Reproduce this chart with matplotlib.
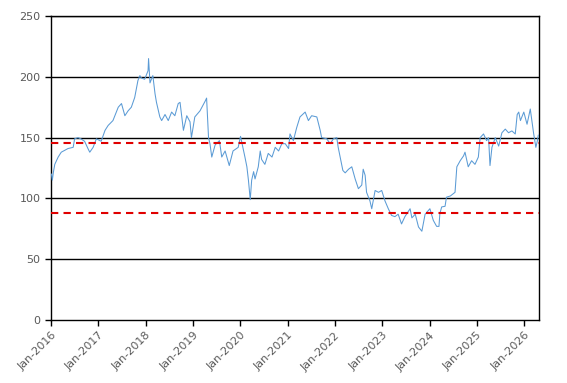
import matplotlib
matplotlib.use("Agg")
import matplotlib.pyplot as plt
import matplotlib.dates as mdates
import pandas as pd

dates = [
    "2016-01-04", "2016-01-11", "2016-01-20", "2016-01-30", "2016-02-25", "2016-03-20",
    "2016-05-11", "2016-06-20", "2016-07-01", "2016-07-27", "2016-08-18", "2016-09-16",
    "2016-10-12", "2016-10-26", "2016-11-21", "2016-12-16", "2017-01-22", "2017-02-21",
    "2017-03-17", "2017-04-23", "2017-06-03", "2017-06-28", "2017-07-24", "2017-08-18",
    "2017-09-12", "2017-10-08", "2017-11-02", "2017-11-17", "2017-11-28", "2017-12-24",
    "2018-01-19", "2018-01-23", "2018-02-03", "2018-02-25", "2018-03-14", "2018-03-25",
    "2018-04-20", "2018-05-04", "2018-05-30", "2018-06-24", "2018-07-20", "2018-08-14",
    "2018-09-09", "2018-09-23", "2018-10-19", "2018-11-14", "2018-12-09", "2018-12-20",
    "2019-01-15", "2019-02-24", "2019-04-05", "2019-04-16", "2019-05-01", "2019-05-12",
    "2019-05-26", "2019-06-21", "2019-07-24", "2019-08-11", "2019-09-06", "2019-10-08",
    "2019-11-06", "2019-12-16", "2020-01-03", "2020-02-06", "2020-02-21", "2020-03-04",
    "2020-03-18", "2020-03-29", "2020-04-13", "2020-04-24", "2020-05-19", "2020-06-03",
    "2020-06-14", "2020-07-09", "2020-08-04", "2020-09-02", "2020-09-27", "2020-10-23",
    "2020-11-17", "2020-12-13", "2021-01-08", "2021-01-19", "2021-02-14", "2021-03-11",
    "2021-04-06", "2021-05-16", "2021-06-10", "2021-07-05", "2021-08-14", "2021-09-09",
    "2021-09-20", "2021-10-30", "2021-11-25", "2021-12-20", "2022-01-15", "2022-01-26",
    "2022-02-10", "2022-03-03", "2022-03-21", "2022-04-16", "2022-05-11", "2022-06-06",
    "2022-07-01", "2022-07-27", "2022-08-07", "2022-08-22", "2022-09-02", "2022-09-28",
    "2022-10-12", "2022-11-07", "2022-12-03", "2022-12-28", "2023-01-22", "2023-02-17",
    "2023-03-14", "2023-04-09", "2023-05-04", "2023-05-30", "2023-06-25", "2023-08-04",
    "2023-08-18", "2023-09-13", "2023-10-08", "2023-11-03", "2023-11-28", "2024-01-04",
    "2024-01-30", "2024-02-25", "2024-03-14", "2024-03-21", "2024-04-04", "2024-04-30",
    "2024-05-11", "2024-06-10", "2024-07-16", "2024-07-30", "2024-08-25", "2024-09-20",
    "2024-10-01", "2024-10-26", "2024-11-21", "2024-12-17", "2025-01-12", "2025-01-26",
    "2025-02-21", "2025-03-17", "2025-04-01", "2025-04-12", "2025-04-27", "2025-05-23",
    "2025-06-18", "2025-07-13", "2025-08-08", "2025-09-02", "2025-09-28", "2025-10-24",
    "2025-11-08", "2025-11-20", "2025-12-03", "2025-12-29", "2026-01-23", "2026-02-17",
    "2026-03-14", "2026-04-01", "2026-04-10", "2026-04-20",
]

values = [
    120, 115, 122, 128, 134, 138,
    141, 142, 149, 150, 149, 147,
    141, 138, 142, 149, 147, 156,
    160, 164, 175, 178, 168, 172,
    175, 183, 197, 201, 199, 198,
    205, 215, 195, 201, 186, 179,
    167, 164, 169, 164, 171, 168,
    178, 179, 156, 168, 163, 150,
    167, 172, 180, 182.5, 150, 145,
    134, 144, 147.5, 134, 139, 127,
    139, 142, 151, 134, 126, 115,
    99, 115, 122, 116, 126, 139,
    132, 128, 137, 134, 142, 139,
    145, 145, 141, 153, 147.5, 158,
    167, 171, 164, 168, 167, 156,
    150, 149, 145, 149, 150, 142,
    134, 123, 121, 124, 126, 116,
    108, 111, 124, 119, 105, 98,
    91.5, 106.5, 105, 106.5, 98, 91.5,
    86, 85, 87, 79, 85, 91.5,
    84, 87, 76.5, 73, 87, 91.5,
    82, 77, 77, 87.5, 93, 93.5,
    101, 102, 105, 126, 131, 135,
    138, 126, 131, 128, 134, 150,
    153, 147.5, 150, 127, 142, 150,
    143, 154, 157, 154, 155.5, 153,
    169, 171, 164, 171, 161, 173.5,
    154, 142, 146, 152,
]

ref_lines = [145.5, 88]
y_ticks = [0, 50, 100, 150, 200, 250]
x_years = list(range(2016, 2027))

dt = pd.to_datetime(dates)

fig = plt.figure(figsize=(5.67, 3.83), dpi=100)
ax = fig.add_axes([0.09, 0.1645, 0.861, 0.7937])

for y in y_ticks[1:]:
    ax.axhline(y, color="black", lw=1.0, zorder=1)

ax.plot(dt, values, color="#5B9BD5", lw=0.75, zorder=3)

for y in ref_lines:
    ax.axhline(y, color="#E00000", lw=1.5, ls=(0, (3.5, 2.5)), zorder=4)

ax.set_ylim(0, 250)
ax.set_yticks(y_ticks)
ax.set_xlim(pd.Timestamp("2016-01-01"), pd.Timestamp("2026-04-27"))
ax.set_xticks([pd.Timestamp(f"{y}-01-01") for y in x_years])
ax.xaxis.set_major_formatter(mdates.DateFormatter("%b-%Y"))

for lbl in ax.get_xticklabels():
    lbl.set_rotation(45)
    lbl.set_ha("right")
    lbl.set_rotation_mode("anchor")

ax.tick_params(axis="both", labelsize=8, colors="black", labelcolor="#595959",
               direction="out", length=4, width=1)
for s in ax.spines.values():
    s.set_color("black")
    s.set_linewidth(1.0)

fig.savefig("out.png", dpi=100)
